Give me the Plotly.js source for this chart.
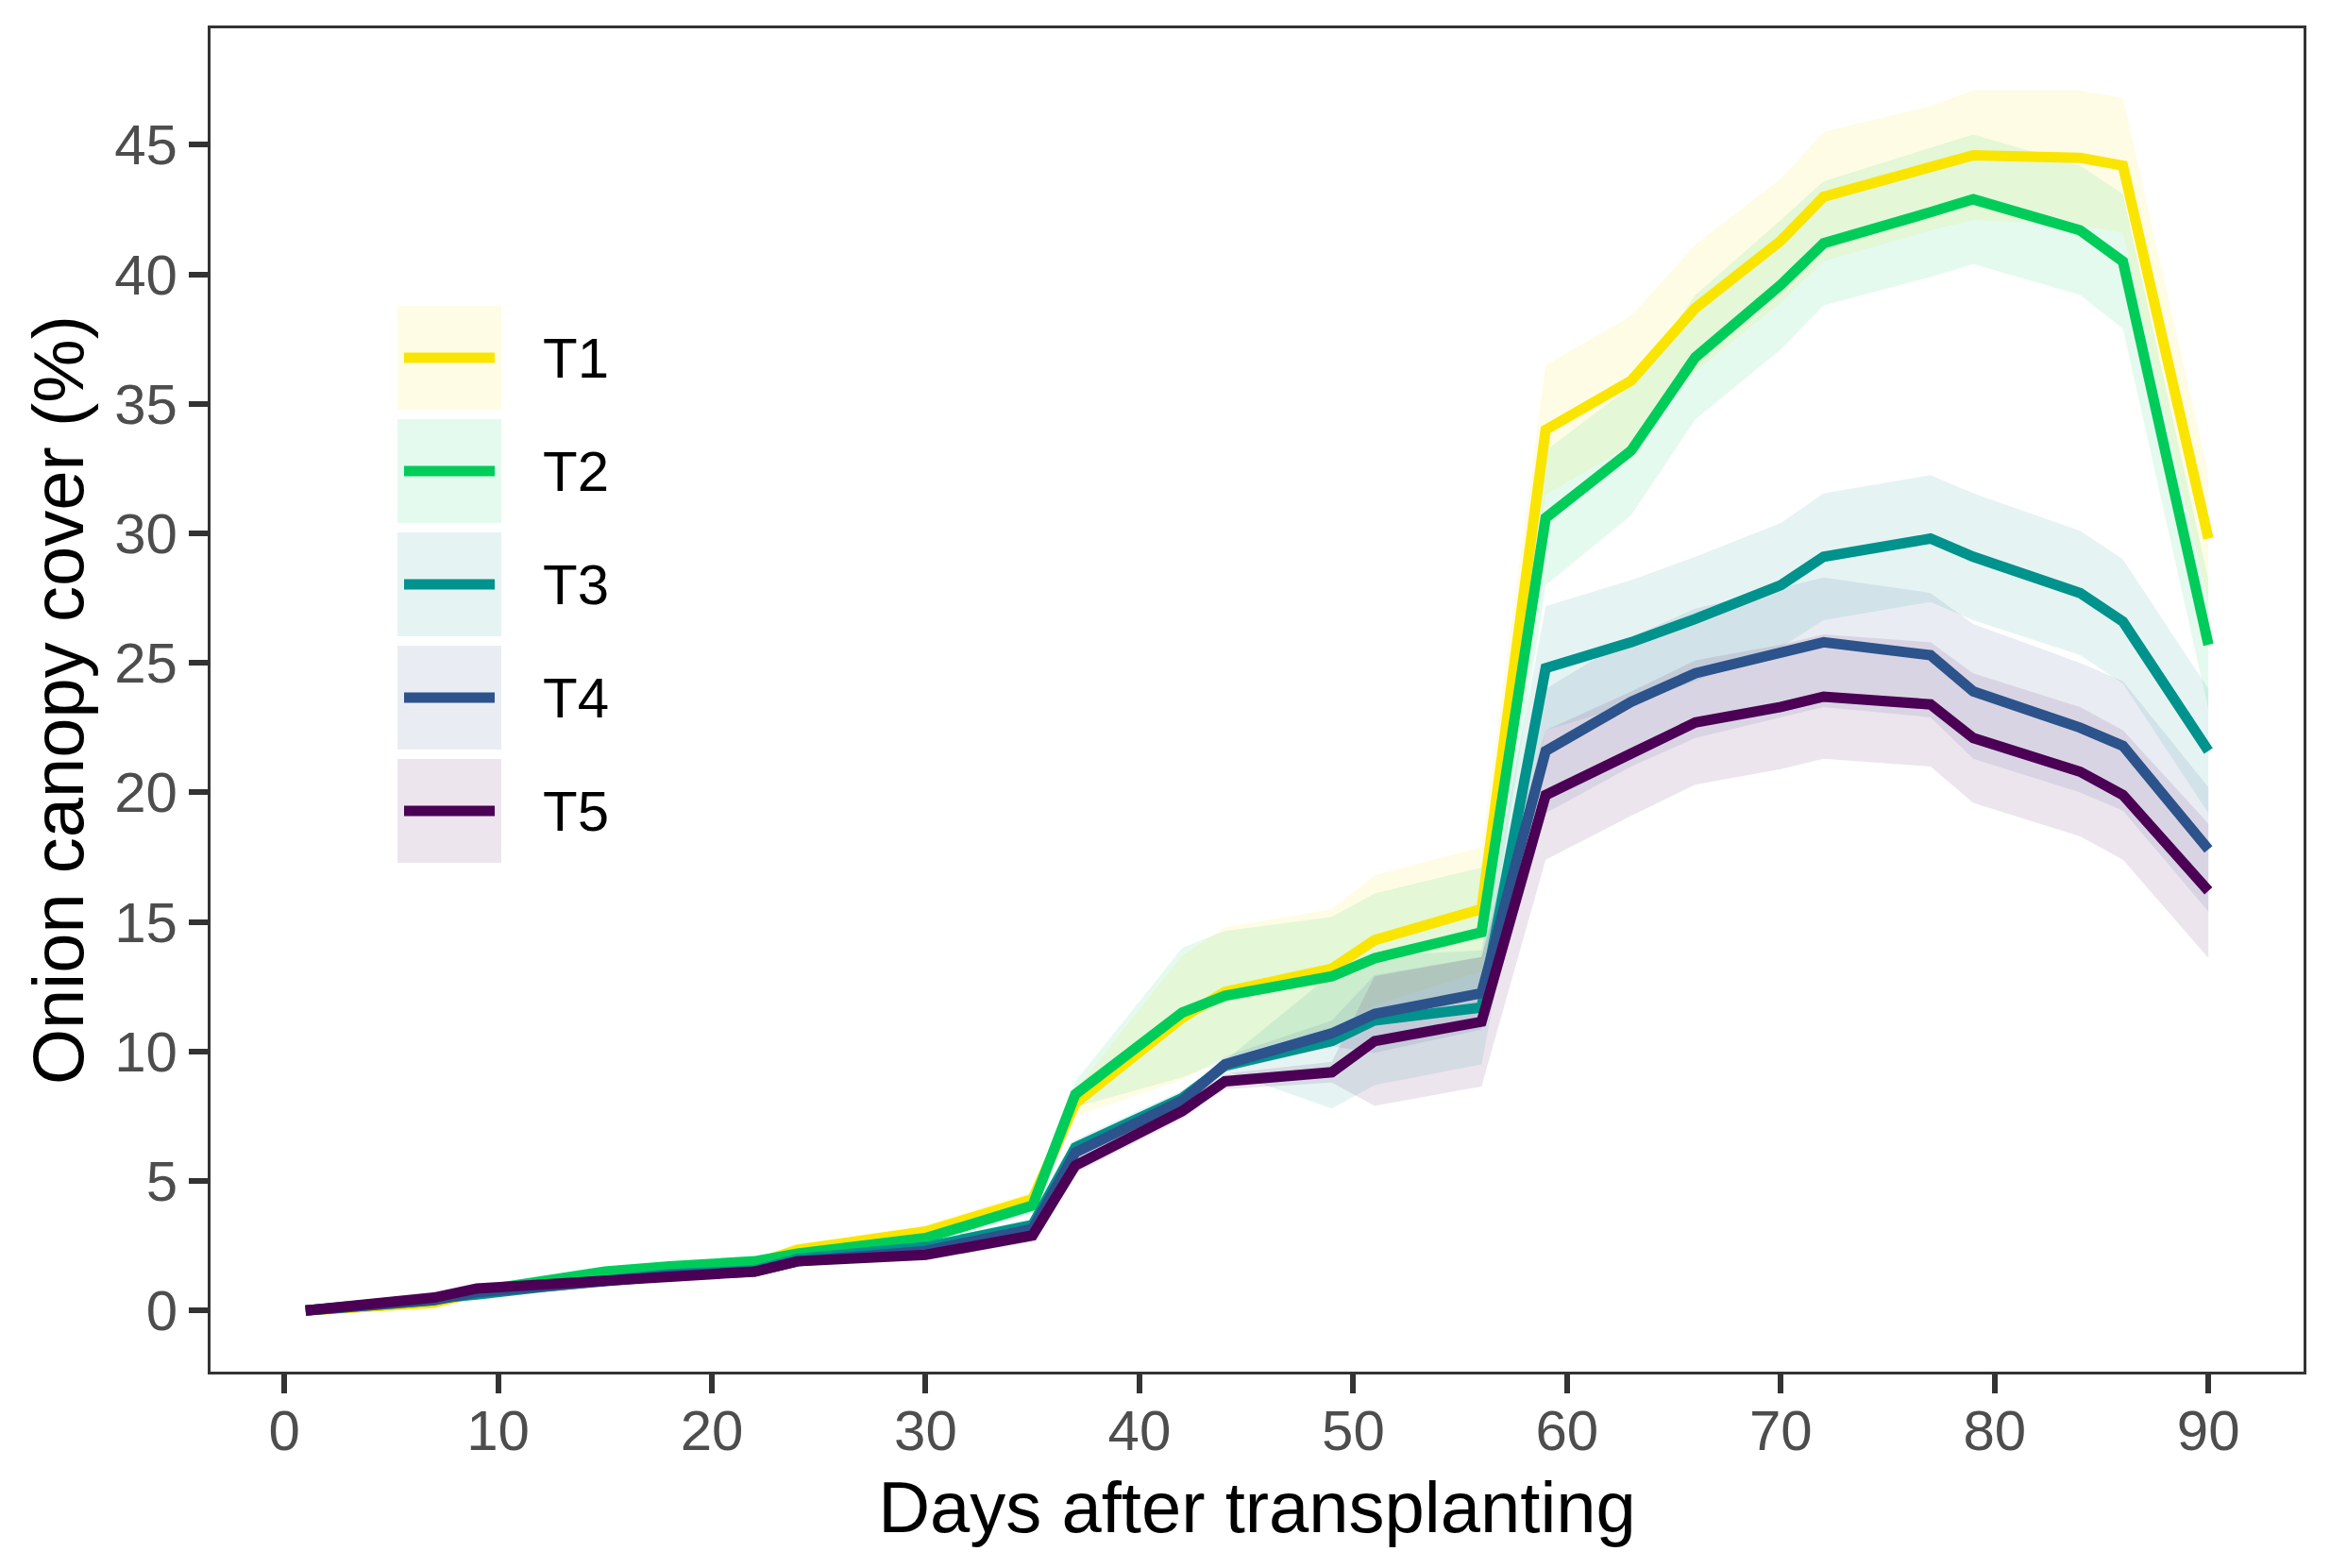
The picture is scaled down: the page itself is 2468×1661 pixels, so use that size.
<!DOCTYPE html>
<html>
<head>
<meta charset="utf-8">
<script src="https://cdn.plot.ly/plotly-3.0.1.min.js"></script>
<style>html,body{margin:0;padding:0;background:#fff;}#chart{width:2468px;height:1661px;}</style>
</head>
<body>
<div id="chart"></div>
<script>
// ---- data ----
const days = [1, 4, 7, 9, 12, 15, 18, 22, 24, 30, 35, 37, 42, 44, 49, 51, 56, 59, 63, 66, 70, 72, 77, 79, 84, 86, 90];
const seriesNames = ["T1", "T2", "T3", "T4", "T5"];
const T1_mean = [0, 0.2, 0.3, 0.7, 1.0, 1.35, 1.6, 1.8, 2.35, 3.05, 4.3, 8.0, 11.3, 12.3, 13.2, 14.3, 15.5, 34.0, 35.9, 38.7, 41.3, 43.0, 44.1, 44.6, 44.5, 44.2, 29.8];
const T2_mean = [0, 0.2, 0.4, 0.75, 1.1, 1.5, 1.7, 1.9, 2.2, 2.8, 4.05, 8.35, 11.5, 12.15, 12.9, 13.6, 14.6, 30.6, 33.2, 36.8, 39.6, 41.2, 42.4, 42.9, 41.7, 40.5, 25.7];
const T3_mean = [0, 0.2, 0.4, 0.62, 0.9, 1.15, 1.4, 1.55, 2.0, 2.45, 3.3, 6.3, 8.2, 9.45, 10.4, 11.2, 11.7, 24.8, 25.8, 26.7, 28.0, 29.1, 29.8, 29.1, 27.7, 26.6, 21.6];
const T4_mean = [0, 0.2, 0.4, 0.7, 0.95, 1.15, 1.35, 1.5, 1.9, 2.3, 3.15, 6.1, 8.1, 9.5, 10.7, 11.45, 12.25, 21.6, 23.5, 24.6, 25.4, 25.8, 25.3, 23.9, 22.5, 21.8, 17.8];
const T5_mean = [0, 0.25, 0.5, 0.85, 1.0, 1.15, 1.35, 1.5, 1.9, 2.15, 2.9, 5.6, 7.7, 8.85, 9.2, 10.4, 11.15, 19.9, 21.5, 22.7, 23.3, 23.7, 23.4, 22.1, 20.8, 19.9, 16.2];
// half-width of the shaded band around each mean
const T1_se = [0, 0.05, 0.1, 0.1, 0.1, 0.15, 0.15, 0.15, 0.2, 0.25, 0.3, 0.5, 2.4, 2.5, 2.3, 2.5, 2.4, 2.5, 2.5, 2.45, 2.4, 2.5, 2.4, 2.5, 2.6, 2.6, 2.5];
const T2_se = [0, 0.05, 0.1, 0.1, 0.1, 0.15, 0.15, 0.15, 0.2, 0.25, 0.3, 0.5, 2.5, 2.5, 2.3, 2.5, 2.5, 2.6, 2.5, 2.4, 2.5, 2.4, 2.5, 2.5, 2.5, 2.6, 2.5];
const T3_se = [0, 0.05, 0.05, 0.1, 0.1, 0.1, 0.1, 0.15, 0.15, 0.2, 0.25, 0.3, 0.3, 0.2, 2.6, 2.5, 2.2, 2.4, 2.4, 2.4, 2.4, 2.45, 2.45, 2.45, 2.4, 2.4, 2.4];
const T4_se = [0, 0.05, 0.05, 0.1, 0.1, 0.1, 0.1, 0.15, 0.15, 0.2, 0.25, 0.3, 0.3, 0.3, 0.5, 1.5, 1.4, 2.4, 2.5, 2.5, 2.5, 2.5, 2.4, 2.6, 2.5, 2.5, 2.4];
const T5_se = [0, 0.05, 0.05, 0.1, 0.1, 0.1, 0.1, 0.15, 0.15, 0.2, 0.25, 0.3, 0.3, 0.3, 0.4, 2.5, 2.5, 2.5, 2.4, 2.4, 2.4, 2.4, 2.4, 2.5, 2.5, 2.5, 2.6];
const xTicks = [0, 10, 20, 30, 40, 50, 60, 70, 80, 90];
const yTicks = [0, 5, 10, 15, 20, 25, 30, 35, 40, 45];

// ---- styling ----
const colors = ["#FAE500", "#00CC5A", "#00928C", "#2C538B", "#4B0055"];
const means = [T1_mean, T2_mean, T3_mean, T4_mean, T5_mean];
const ses = [T1_se, T2_se, T3_se, T4_se, T5_se];

function rgba(hex, a) {
  const n = parseInt(hex.slice(1), 16);
  return `rgba(${(n >> 16) & 255},${(n >> 8) & 255},${n & 255},${a})`;
}

const traces = [];
means.forEach((m, i) => {
  const lo = m.map((v, k) => v - ses[i][k]);
  const hi = m.map((v, k) => v + ses[i][k]);
  traces.push({x: days, y: lo, type: "scatter", mode: "lines", line: {width: 0, color: colors[i]},
               showlegend: false, hoverinfo: "skip"});
  traces.push({x: days, y: hi, type: "scatter", mode: "lines", line: {width: 0, color: colors[i]},
               fill: "tonexty", fillcolor: rgba(colors[i], 0.1), showlegend: false, hoverinfo: "skip"});
});
means.forEach((m, i) => {
  traces.push({x: days, y: m, type: "scatter", mode: "lines", name: seriesNames[i],
               line: {width: 11, color: colors[i]}, showlegend: false});
});

// plot area in pixels
const L = 223, R = 28, T = 30, B = 208, W = 2468, H = 1661;
const pw = W - L - R, ph = H - T - B;
const px = v => (v - L) / pw;
const py = v => (H - B - v) / ph;

const shapes = [], annotations = [];
seriesNames.forEach((name, i) => {
  const top = 324 + 120 * i;
  shapes.push({type: "rect", xref: "paper", yref: "paper", x0: px(421), x1: px(531), y0: py(top), y1: py(top + 110),
               fillcolor: rgba(colors[i], 0.1), line: {width: 0}, layer: "above"});
  shapes.push({type: "line", xref: "paper", yref: "paper", x0: px(428), x1: px(524), y0: py(top + 55), y1: py(top + 55),
               line: {color: colors[i], width: 11}, layer: "above"});
  annotations.push({xref: "paper", yref: "paper", x: px(573), y: py(top + 55), xanchor: "left", yanchor: "middle",
                    text: name, showarrow: false, font: {family: "Liberation Sans, Arial, sans-serif", size: 60, color: "#000"}});
});

const axisCommon = {
  showgrid: false, zeroline: false, showline: true, mirror: true, linecolor: "#333333", linewidth: 3,
  ticks: "outside", ticklen: 20, tickwidth: 6, tickcolor: "#333333",
  tickfont: {family: "Liberation Sans, Arial, sans-serif", size: 60, color: "#4D4D4D"}
};

const layout = {
  width: W, height: H,
  margin: {l: L, r: R, t: T, b: B},
  paper_bgcolor: "#fff", plot_bgcolor: "#fff",
  showlegend: false,
  xaxis: Object.assign({}, axisCommon, {
    range: [-3.45, 94.45], tickvals: xTicks, ticktext: xTicks.map(String),
    ticklabelstandoff: -12,
    title: {text: "Days after transplanting", standoff: 22,
            font: {family: "Liberation Sans, Arial, sans-serif", size: 76, color: "#000"}}
  }),
  yaxis: Object.assign({}, axisCommon, {
    range: [-2.36, 49.5], tickvals: yTicks, ticktext: yTicks.map(String),
    title: {text: "Onion canopy cover (%)", standoff: 8,
            font: {family: "Liberation Sans, Arial, sans-serif", size: 76, color: "#000"}}
  }),
  shapes: shapes, annotations: annotations
};

Plotly.newPlot("chart", traces, layout, {staticPlot: true, displayModeBar: false});
</script>
</body>
</html>
